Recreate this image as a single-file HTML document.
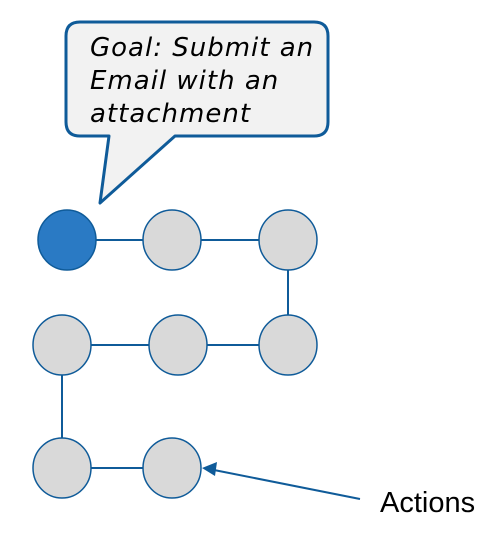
<!DOCTYPE html>
<html><head><style>body{margin:0;background:#fff}</style></head><body>
<svg width="497" height="530" xmlns="http://www.w3.org/2000/svg">
<g stroke="#0f5b99" stroke-width="2" fill="none">
<line x1="67" y1="240" x2="288" y2="240"/>
<line x1="288" y1="240" x2="288" y2="345"/>
<line x1="62" y1="345" x2="288" y2="345"/>
<line x1="62" y1="345" x2="62" y2="468"/>
<line x1="62" y1="468" x2="172" y2="468"/>
<line x1="360" y1="499" x2="214" y2="470"/>
</g>
<polygon points="202,468 217,462 215,476" fill="#0f5b99"/>
<path d="M80,22 H314 Q328,22 328,36 V122 Q328,136 314,136 H175 L100,203 L109,136 H80 Q66,136 66,122 V36 Q66,22 80,22 Z" fill="#f2f2f2" stroke="#0f5b99" stroke-width="3" stroke-linejoin="round"/>
<g font-family="'DejaVu Sans', sans-serif" font-style="italic" font-size="26" letter-spacing="1" fill="#000">
<text x="90" y="56">Goal: Submit an</text>
<text x="90" y="89">Email with an</text>
<text x="90" y="122">attachment</text>
</g>
<g stroke="#0f5b99" stroke-width="1.5" fill="#d9d9d9">
<ellipse cx="67" cy="240" rx="29" ry="30" fill="#2a7ac4"/>
<ellipse cx="172" cy="240" rx="29" ry="30"/>
<ellipse cx="288" cy="240" rx="29" ry="30"/>
<ellipse cx="62" cy="345" rx="29" ry="30"/>
<ellipse cx="178" cy="345" rx="29" ry="30"/>
<ellipse cx="288" cy="345" rx="29" ry="30"/>
<ellipse cx="62" cy="468" rx="29" ry="30"/>
<ellipse cx="172" cy="468" rx="29" ry="30"/>
</g>
<text x="380" y="512" font-family="'Liberation Sans', sans-serif" font-size="29" fill="#000">Actions</text>
</svg>
</body></html>
